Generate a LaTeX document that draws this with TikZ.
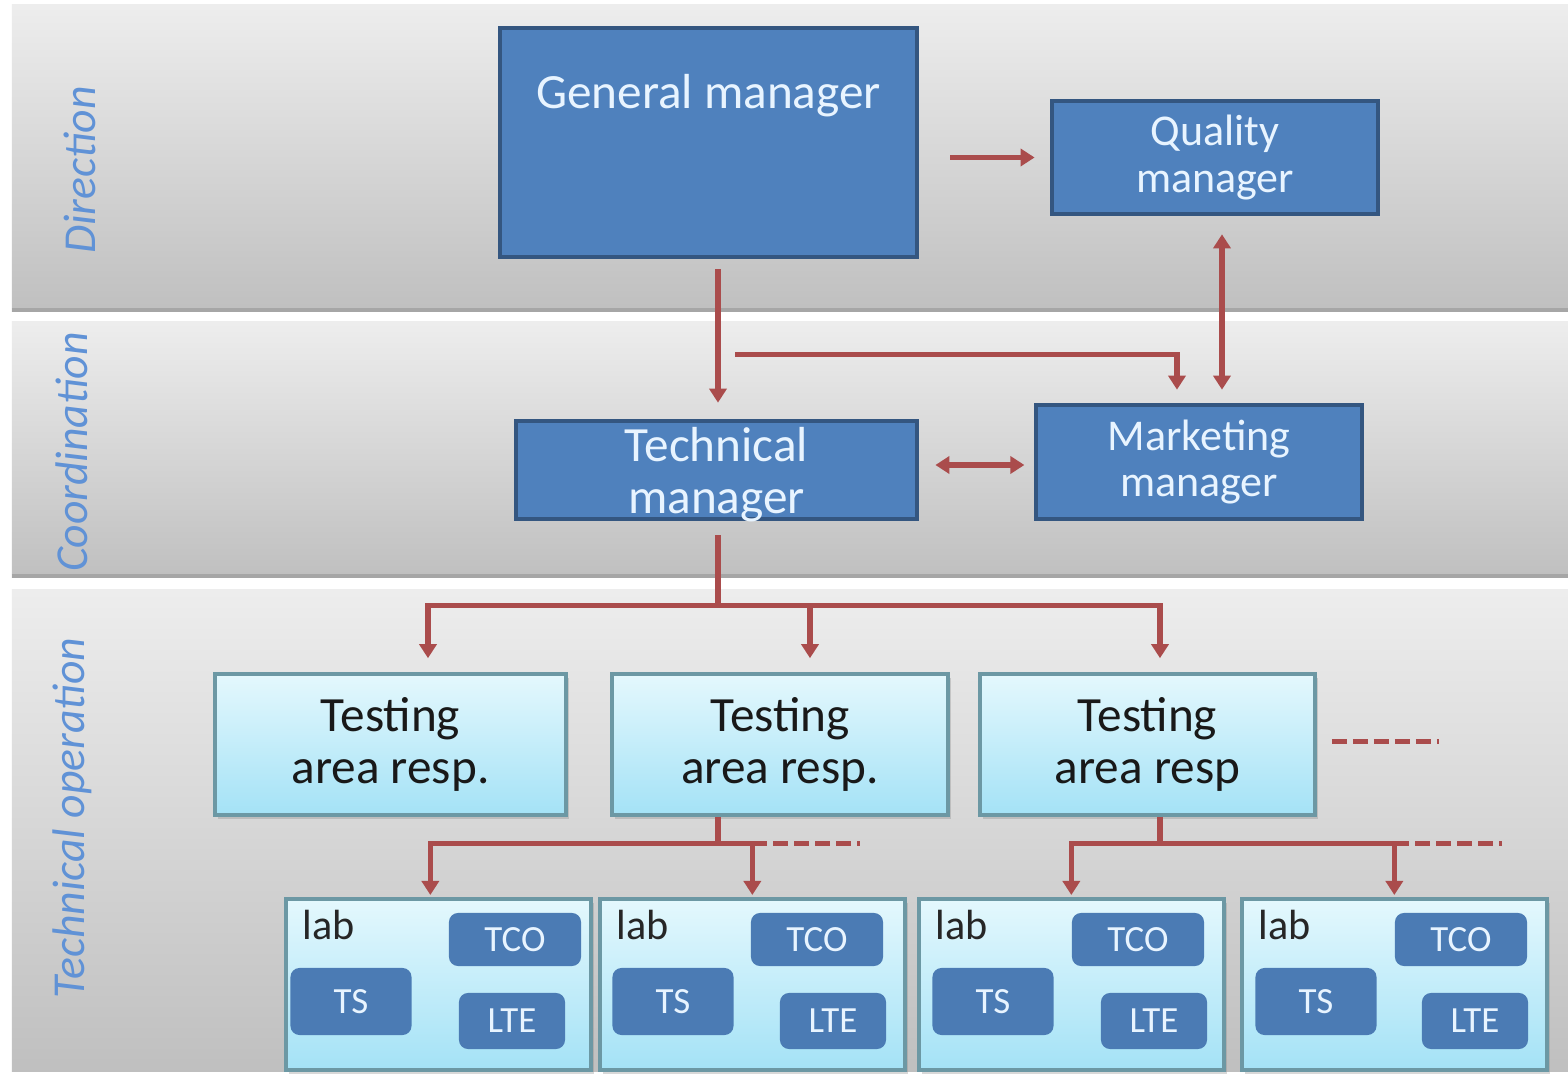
\documentclass[tikz,border=0pt]{standalone}
\usepackage{fontspec}
\setmainfont{Carlito}
\usepackage{tikz}
\usetikzlibrary{
        arrows.meta,
        calc,
        positioning,
        shadows
    }
\definecolor{mgrblue}{RGB}{79,129,189}
\definecolor{mgredge}{RGB}{52,86,128}
\definecolor{mgrtxt}{RGB}{232,244,255}
\definecolor{bandlbl}{RGB}{96,146,214}
\definecolor{linkred}{RGB}{170,76,76}
\definecolor{areatop}{RGB}{228,248,253}
\definecolor{areabot}{RGB}{164,226,246}
\definecolor{areaedge}{RGB}{108,152,164}
\tikzset{>={Triangle[length=0.14cm,width=0.17cm]}}
\tikzset{
    band/.style={top color=black!7, bottom color=black!25, draw=none},
    bandedge/.style={draw=black!35, line width=0.04cm},
    bandtext/.style={rotate=90, font=\fontsize{13}{15}\selectfont\itshape, text=bandlbl},
    mgr/.style={rectangle, fill=mgrblue, draw=mgredge, line width=1.3pt, text=mgrtxt, align=center, inner sep=0pt},
    mgrlabel/.style={text=mgrtxt, align=center, anchor=center, inner sep=0pt},
    area/.style={rectangle, top color=areatop, bottom color=areabot, draw=areaedge, line width=1pt,
        align=center, text=black!90, font=\fontsize{14}{14.8}\selectfont, inner sep=0pt,
        drop shadow={shadow xshift=0.03cm, shadow yshift=-0.04cm, opacity=0.3}},
    labbox/.style={area, minimum width=3.05cm, minimum height=1.71cm},
    unit/.style={rectangle, rounded corners=0.09cm, fill=mgrblue!95!black, text=mgrtxt,
        font=\fontsize{10.5}{12}\selectfont, inner sep=0pt},
    link/.style={draw=linkred, line width=1.5pt, ->},
    trunk/.style={draw=linkred, line width=1.5pt},
    more/.style={draw=linkred, line width=1.5pt, dash pattern=on 0.15cm off 0.06cm}
}

\begin{document}
\begin{tikzpicture}[x=0.01cm, y=-0.01cm]
    \useasboundingbox (0,0) rectangle (1568,1076);
    \fill[white] (0,0) rectangle (1568,1076);
    % the three levels
    \shade[band] (12,5) rectangle (1568,312);
    \draw[bandedge] (12,310) -- (1568,310);
    \shade[band] (12,322) rectangle (1568,578);
    \draw[bandedge] (12,576) -- (1568,576);
    \shade[band] (12,590) rectangle (1568,1072);
    \node[bandtext] (dir)   at (80,170) {Direction};
    \node[bandtext] (coord) at (72,452) {Coordination};
    \node[bandtext] (oper)  at (72,818) {Technical operation};

    \node[mgr, minimum width=4.17cm, minimum height=2.29cm,
          label={[mgrlabel, font=\fontsize{14}{16}\selectfont, yshift=-0.70cm]north:General manager}]
          (gm) at (708.5,142.5) {};
    \node[mgr, minimum width=3.26cm, minimum height=1.13cm, font=\fontsize{12.5}{13.4}\selectfont]
          (qm) at (1215,157.5) {Quality\\manager};
    \node[mgr, minimum width=4.01cm, minimum height=0.98cm,
          label={[mgrlabel, font=\fontsize{14}{14.8}\selectfont, yshift=-0.05cm]center:Technical\\manager}]
          (tm) at (716.5,470) {};
    \node[mgr, minimum width=3.26cm, minimum height=1.14cm, font=\fontsize{12.5}{13.1}\selectfont]
          (mm) at (1199,462) {Marketing\\manager};

    \node[area, minimum width=3.51cm, minimum height=1.41cm] (tsa1) at (390.5,744.5) {Testing\\area resp.};
    \node[area, minimum width=3.36cm, minimum height=1.41cm] (tsa2) at (780,744.5)   {Testing\\area resp.};
    \node[area, minimum width=3.35cm, minimum height=1.41cm] (tsa3) at (1147.5,744.5) {Testing\\area resp};

    \foreach \lx/\n/\tco/\ts/\lte in {284/1/231/67/228, 598/2/219/75/235, 917/3/221/76/237, 1240/4/221/76/235} {
        \node[labbox, anchor=north west] (lab\n) at (\lx,897) {};
        \node[anchor=west, inner sep=0pt, font=\fontsize{12}{14}\selectfont, text=black!85]
              (labtxt\n) at (\lx+18,925) {lab};
        \node[unit, minimum width=1.32cm, minimum height=0.53cm] (tco\n) at (\lx+\tco,939.5) {TCO};
        \node[unit, minimum width=1.21cm, minimum height=0.67cm] (ts\n)  at (\lx+\ts,1001.5) {TS};
        \node[unit, minimum width=1.06cm, minimum height=0.56cm] (lte\n) at (\lx+\lte,1021) {LTE};
    }

    % direction and coordination
    \draw[link] ($(gm.east |- qm.west)+(31,0)$) -- ($(qm.west)+(-15,0)$);
    \draw[link] ($(gm.south)+(9.5,10)$) -- ($(tm.north)+(1.5,-16)$);
    \coordinate (cc) at ($(gm.south)+(26.5,95)$);
    \draw[link] (cc) -| ($(mm.north)+(-22,-13)$);
    \draw[link,<->] ($(qm.south)+(7,18)$) -- ($(mm.north)+(23,-13)$);
    \draw[link,<->] ($(tm.east)+(16,-5)$) -- ++(89,0);

    % technical operation
    \coordinate (bus1) at ($(tm.south)+(1.5,84)$);
    \draw[trunk] ($(tm.south)+(1.5,14)$) -- (bus1);
    \draw[link] (bus1) -| ($(tsa1.north)+(37.5,-14)$);
    \draw[link] (bus1) -| ($(tsa3.north)+(12.5,-14)$);
    \draw[link] ($(tsa2.north)+(30,-69)$) -- ($(tsa2.north)+(30,-14)$);
    \draw[more] ($(tsa3.east)+(15,-3)$) -- ++(107,0);

    \coordinate (bus2) at ($(tsa2.south)+(-62,27)$);
    \draw[trunk] (tsa2.south -| bus2) -- (bus2);
    \draw[link] (bus2) -| ($(lab1.north)+(-8,-2)$);
    \draw[link] (bus2) -| ($(lab2.north)+(0,-2)$);
    \draw[more] (bus2 -| lab2.north) -- ++(108,0);

    \coordinate (bus3) at ($(tsa3.south)+(12.5,27)$);
    \draw[trunk] (tsa3.south -| bus3) -- (bus3);
    \draw[link] (bus3) -| ($(lab3.north)+(0,-2)$);
    \draw[link] (bus3) -| ($(lab4.north)+(0,-2)$);
    \draw[more] (bus3 -| lab4.north) -- ++(108,0);
\end{tikzpicture}
\end{document}
